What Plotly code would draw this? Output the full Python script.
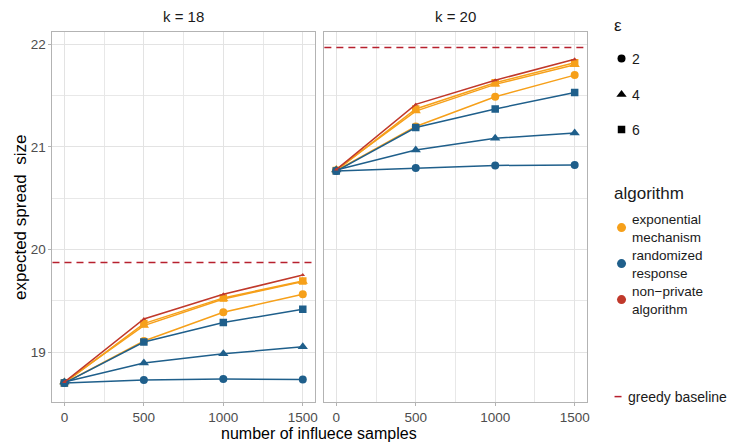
import plotly.graph_objects as go

W, H = 731, 442

samples = [0, 500, 1000, 1500]
k_values = [18, 20]
eps_values = [2, 4, 6]
algorithm_labels = ["exponential<br>mechanism", "randomized<br>response", "non\u2212private<br>algorithm"]

# k = 18
exp_k18_eps2 = [18.70, 19.11, 19.39, 19.565]
exp_k18_eps4 = [18.71, 19.26, 19.52, 19.69]
exp_k18_eps6 = [18.70, 19.28, 19.53, 19.695]
rr_k18_eps2 = [18.70, 18.73, 18.74, 18.735]
rr_k18_eps4 = [18.71, 18.895, 18.985, 19.055]
rr_k18_eps6 = [18.70, 19.10, 19.29, 19.42]
nonpriv_k18 = [18.71, 19.325, 19.565, 19.753]
greedy_k18 = 19.876

# k = 20
exp_k20_eps2 = [20.77, 21.20, 21.49, 21.70]
exp_k20_eps4 = [20.78, 21.35, 21.61, 21.80]
exp_k20_eps6 = [20.77, 21.37, 21.625, 21.82]
rr_k20_eps2 = [20.765, 20.795, 20.82, 20.825]
rr_k20_eps4 = [20.775, 20.97, 21.085, 21.135]
rr_k20_eps6 = [20.765, 21.19, 21.37, 21.53]
nonpriv_k20 = [20.78, 21.415, 21.65, 21.855]
greedy_k20 = 21.97

ORANGE = "#F6A01A"
BLUE = "#1F5F8B"
RED = "#C0392B"
DASH_RED = "#B7202E"
symbols = {2: "circle", 4: "triangle-up", 6: "square"}
msize = {2: 8, 4: 9, 6: 7.5}

panel_data = {
    18: {"exp": [exp_k18_eps2, exp_k18_eps4, exp_k18_eps6],
         "rr": [rr_k18_eps2, rr_k18_eps4, rr_k18_eps6],
         "np": nonpriv_k18, "greedy": greedy_k18},
    20: {"exp": [exp_k20_eps2, exp_k20_eps4, exp_k20_eps6],
         "rr": [rr_k20_eps2, rr_k20_eps4, rr_k20_eps6],
         "np": nonpriv_k20, "greedy": greedy_k20},
}

fig = go.Figure()


def px_x(p):
    return p / W


def px_y(p):
    return 1 - p / H


domains = [[px_x(52.7), px_x(316)], [px_x(325.7), px_x(589)]]
ydom = [px_y(402), px_y(32)]

for i, k in enumerate(k_values):
    xa = "x" if i == 0 else "x2"
    ya = "y" if i == 0 else "y2"
    d = panel_data[k]
    for key, color in (("exp", ORANGE), ("rr", BLUE)):
        for e, vals in zip(eps_values, d[key]):
            fig.add_trace(go.Scatter(
                x=samples, y=vals, xaxis=xa, yaxis=ya, mode="lines+markers",
                line=dict(color=color, width=1.5),
                marker=dict(symbol=symbols[e], size=msize[e], color=color),
                showlegend=False, hoverinfo="skip"))
    fig.add_trace(go.Scatter(
        x=samples, y=d["np"], xaxis=xa, yaxis=ya, mode="lines+markers",
        line=dict(color=RED, width=1.5),
        marker=dict(symbol="triangle-up", size=4, color=RED),
        showlegend=False, hoverinfo="skip"))
    fig.add_shape(type="line", xref=f"{xa} domain", yref=ya, x0=0, x1=1,
                  y0=d["greedy"], y1=d["greedy"],
                  line=dict(color=DASH_RED, width=1.5, dash="7px,5px"))

legend_layouts = {}
TXT_X = 633       # label start (px)
SYM_OFFSET = 16.5  # legend symbol centre relative to legend x (px)


def add_key(idx, marker, ycenter, label, sym_x=620.5, txt_x=TXT_X, fsize=14):
    lname = "legend" if idx == 1 else f"legend{idx}"
    fig.add_trace(go.Scatter(x=[None], y=[None], mode="markers", name=" ",
                             marker=marker, legend=lname, showlegend=True))
    legend_layouts[lname] = dict(x=px_x(sym_x - SYM_OFFSET), y=px_y(ycenter), xanchor="left",
                                 yanchor="middle", bgcolor="rgba(0,0,0,0)",
                                 font=dict(size=14), itemclick=False, itemdoubleclick=False)
    fig.add_annotation(text=label, xref="paper", yref="paper", x=px_x(txt_x), y=px_y(ycenter),
                       xanchor="left", yanchor="middle", align="left", showarrow=False,
                       font=dict(size=fsize, color="#1a1a1a"))


# epsilon keys
eps_y = [59, 95, 130]
for j, e in enumerate(eps_values):
    add_key(j + 1, dict(symbol=symbols[e], size=msize[e], color="black"), eps_y[j], str(e))
# algorithm keys
alg_y = [228, 264, 300]
for j, (lab, color) in enumerate(zip(algorithm_labels, [ORANGE, BLUE, RED])):
    add_key(j + 4, dict(symbol="circle", size=9, color=color), alg_y[j], lab, fsize=13.5)
# greedy baseline key
add_key(7, dict(symbol="line-ew", size=5, color=DASH_RED, line=dict(width=1.5, color=DASH_RED)),
        397, "greedy baseline", sym_x=617, txt_x=629)

# legend titles
fig.add_annotation(text="\u03b5", xref="paper", yref="paper", x=px_x(615), y=px_y(25),
                   xanchor="left", yanchor="middle", showarrow=False,
                   font=dict(size=17, color="#1a1a1a"))
fig.add_annotation(text="algorithm", xref="paper", yref="paper", x=px_x(615), y=px_y(193),
                   xanchor="left", yanchor="middle", showarrow=False,
                   font=dict(size=17, color="#1a1a1a"))

axis_common = dict(
    showline=True, mirror=True, linecolor="#b3b3b3", linewidth=1,
    showgrid=True, gridcolor="#e3e3e3", gridwidth=1,
    ticklen=3, tickcolor="#b3b3b3",
    tickfont=dict(size=13.5, color="#4d4d4d"), zeroline=False,
)
minor_x = dict(showgrid=True, dtick=250, tick0=0, gridcolor="#e8e8e8", gridwidth=0.8)
minor_y = dict(showgrid=True, dtick=0.5, tick0=0, gridcolor="#e8e8e8", gridwidth=0.8)

fig.update_layout(
    width=W, height=H, margin=dict(l=0, r=0, t=0, b=0),
    paper_bgcolor="white", plot_bgcolor="white",
    font=dict(family="Liberation Sans, Arial, sans-serif"),
    xaxis=dict(domain=domains[0], range=[-75, 1575], tickvals=samples, ticks="outside",
               minor=minor_x, anchor="y", **axis_common),
    xaxis2=dict(domain=domains[1], range=[-75, 1575], tickvals=samples, ticks="outside",
                minor=minor_x, anchor="y2", **axis_common),
    yaxis=dict(domain=ydom, range=[18.516, 22.12], tickvals=[19, 20, 21, 22], ticks="outside",
               minor=minor_y, anchor="x", **axis_common),
    yaxis2=dict(domain=ydom, range=[18.516, 22.12], tickvals=[19, 20, 21, 22], ticks="",
                minor=minor_y, matches="y", showticklabels=False, anchor="x2", **axis_common),
    **legend_layouts,
)

# strip titles
for i, k in enumerate(k_values):
    fig.add_annotation(text=f"k = {k}", xref="paper", yref="paper",
                       x=(domains[i][0] + domains[i][1]) / 2, y=px_y(17),
                       showarrow=False, font=dict(size=15, color="#1a1a1a"),
                       xanchor="center", yanchor="middle")

fig.add_annotation(text="expected spread\u00a0 size", xref="paper", yref="paper",
                   x=px_x(20), y=px_y(217), textangle=-90, showarrow=False,
                   font=dict(size=17, color="black"), xanchor="center", yanchor="middle")
fig.add_annotation(text="number of influece samples", xref="paper", yref="paper",
                   x=px_x(320.5), y=0, showarrow=False,
                   font=dict(size=16, color="black"), xanchor="center", yanchor="bottom",
                   yshift=-2)

fig.write_html("out.html", config={"displayModeBar": False},
               post_script="document.body.style.margin='0px';document.body.style.overflow='hidden';")
